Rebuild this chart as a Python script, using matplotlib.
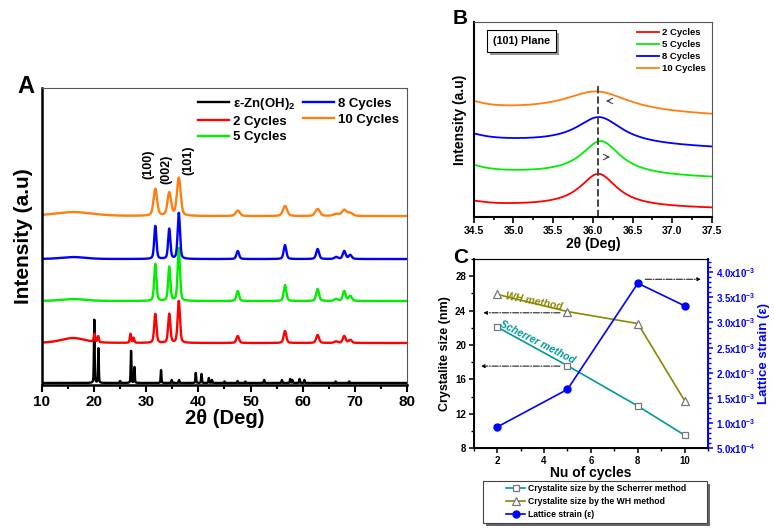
import numpy as np
import matplotlib
matplotlib.use('Agg')
from matplotlib import pyplot as plt
from matplotlib import patheffects
from matplotlib.patches import Rectangle
from matplotlib.ticker import MultipleLocator, FixedLocator

plt.rcParams['font.family'] = ['Liberation Sans', 'DejaVu Sans']
plt.rcParams['font.weight'] = 'bold'
plt.rcParams['mathtext.fontset'] = 'custom'
plt.rcParams['mathtext.rm'] = 'Liberation Sans:bold'
plt.rcParams['mathtext.it'] = 'Liberation Sans:italic:bold'
plt.rcParams['mathtext.bf'] = 'Liberation Sans:bold'

# ---------------- Panel A : XRD patterns (peak lists) -----
# offsets / peak heights are in arbitrary (pixel-like) intensity units
zn_oh_pos = [20.05, 20.85, 25.0, 27.1, 27.75, 32.85, 34.9, 36.3, 39.5, 40.6, 42.0,
             42.6, 45.0, 47.5, 49.0, 52.6, 56.0, 57.6, 58.0, 59.4, 60.3, 66.3, 68.9]
zn_oh_amp = [64, 35, 2, 32, 16, 13, 3, 3, 10, 9, 5, 3, 1.5, 2, 1.5, 3, 3, 4, 3, 4, 3, 1.5, 1.5]

zno_pos = [16.0, 31.75, 34.42, 36.25, 47.55, 56.6, 62.85, 66.4, 67.95, 69.1]
zno_fwhm = [5.5, 0.5, 0.5, 0.52, 0.6, 0.6, 0.65, 0.8, 0.65, 0.7]
amp_2 = [5, 29, 29, 42, 7, 12, 8, 1.5, 7, 3]
amp_5 = [2, 37, 34, 53, 10, 16, 12, 2, 10, 5]
amp_8 = [2, 33, 30, 46, 8, 14, 10, 2, 8, 4]
amp_10 = [4, 27, 23, 38, 5.5, 10, 7, 2, 6, 3]
# residual Zn(OH)2 reflections in the 2-cycle film
extra_2_pos = [20.1, 20.8, 27.0, 27.6]
extra_2_amp = [8, 6, 9, 5]

offsets_a = [2, 42, 84, 126, 169]
labels_a = [r'ε-Zn(OH)$_2$', '2 Cycles', '5 Cycles', '8 Cycles', '10 Cycles']
colors = ['black', '#ff0000', '#00ee00', '#0000ff', '#ff7f0e']
hkl_labels = ['(100)', '(002)', '(101)']
hkl_x = [30.5, 33.8, 38.0]
hkl_y = [221, 216, 225]

# ---------------- Panel B : (101) plane zoom --------------------------------
labels_b = ['2 Cycles', '5 Cycles', '8 Cycles', '10 Cycles']
b_center = [36.07, 36.10, 36.08, 36.05]
b_amp = [33, 34, 27, 21]
b_fwhm = [0.57, 0.6, 0.7, 1.0]
b_shoulder = [4, 7, 6, 7]
b_base_left = [12, 45, 77, 108]
b_base_right = [8.5, 39, 69, 101]

# ---------------- Panel C : crystallite size and strain ----------------------
cycles = [2, 5, 8, 10]
size_scherrer = [22.1, 17.6, 12.9, 9.5]
size_wh = [25.9, 23.9, 22.5, 13.5]
strain = [0.92e-3, 1.67e-3, 3.78e-3, 3.33e-3]


def lorentz(x, pos, amp, fwhm):
    return amp / (1 + (2 * (x - pos) / fwhm) ** 2)


def pvoigt(x, pos, amp, fwhm, eta=0.4):
    g = amp * np.exp(-4 * np.log(2) * ((x - pos) / fwhm) ** 2)
    return eta * lorentz(x, pos, amp, fwhm) + (1 - eta) * g


fig = plt.figure(figsize=(7.74, 5.31), dpi=100)

# ---------------------------- A ---------------------------------------------
ax = fig.add_axes([0.054, 0.275, 0.472, 0.559])
x = np.arange(10, 80.001, 0.02)

black = np.full_like(x, offsets_a[0])
for p, a in zip(zn_oh_pos, zn_oh_amp):
    black += pvoigt(x, p, a, 0.16)

curves = [black]
for k, amps in enumerate([amp_2, amp_5, amp_8, amp_10]):
    y = np.full_like(x, offsets_a[k + 1], dtype=float)
    for p, a, w in zip(zno_pos, amps, zno_fwhm):
        y += pvoigt(x, p, a, w * (1.6 if k == 3 else 1.0))
    if k == 0:
        for p, a in zip(extra_2_pos, extra_2_amp):
            y += pvoigt(x, p, a, 0.3)
    curves.append(y)

for y, c, lab in zip(curves, colors, labels_a):
    ax.plot(x, y, color=c, lw=1.7, label=lab)

ax.set_xlim(10, 80)
ax.set_ylim(0, 297)
ax.set_yticks([])
ax.xaxis.set_major_locator(MultipleLocator(10))
ax.xaxis.set_minor_locator(MultipleLocator(5))
ax.tick_params(axis='x', which='major', labelsize=11, length=5, width=1.5, pad=2)
ax.tick_params(axis='x', which='minor', length=3, width=1.5)
ax.spines['left'].set_linewidth(1.8)
ax.spines['bottom'].set_linewidth(1.8)
for s in ['top', 'right']:
    ax.spines[s].set_color('#555555')
ax.set_xlabel('2θ (Deg)', fontsize=14.5, fontweight='bold', labelpad=0)
ax.set_ylabel('Intensity (a.u)', fontsize=15, fontweight='bold', labelpad=6)
ax.legend(ncol=2, loc='upper right', frameon=False, handlelength=2.4,
          handletextpad=0.3, columnspacing=0.5, labelspacing=0.25,
          borderaxespad=0.2, prop={'weight': 'bold', 'size': 9.5})
for lab, xp, yp in zip(hkl_labels, hkl_x, hkl_y):
    ax.text(xp, yp, lab, rotation=90, ha='center', va='center', fontsize=9,
            fontweight='bold')
fig.text(0.022, 0.838, 'A', fontsize=17, fontweight='bold', va='center')

# ---------------------------- B ---------------------------------------------
axb = fig.add_axes([0.612, 0.591, 0.308, 0.368])
xb = np.linspace(34.5, 37.5, 400)
for k in range(4):
    base = b_base_left[k] + (b_base_right[k] - b_base_left[k]) * (xb - 34.5) / 3.0
    yb = base + lorentz(xb, 34.42, b_shoulder[k], 0.45) \
        + lorentz(xb, b_center[k], b_amp[k], b_fwhm[k])
    axb.plot(xb, yb, color=colors[k + 1], lw=1.3, label=labels_b[k])
axb.vlines(36.07, 0, 133, colors='#444444', linestyles='--', lw=1.4)
axb.annotate('', xy=(36.13, 116), xytext=(36.25, 116),
             arrowprops=dict(arrowstyle='->', color='#333333', lw=0.7))
axb.annotate('', xy=(36.25, 60), xytext=(36.13, 60),
             arrowprops=dict(arrowstyle='->', color='#333333', lw=0.7))
axb.set_xlim(34.5, 37.5)
axb.set_ylim(0, 195)
axb.set_yticks([])
axb.xaxis.set_major_locator(MultipleLocator(0.5))
axb.xaxis.set_minor_locator(MultipleLocator(0.25))
axb.tick_params(axis='x', which='major', labelsize=7.5, length=4, width=1.2, pad=2)
axb.tick_params(axis='x', which='minor', length=2.5, width=1.2)
axb.spines['left'].set_linewidth(1.5)
axb.spines['bottom'].set_linewidth(1.5)
for s in ['top', 'right']:
    axb.spines[s].set_color('#555555')
axb.set_xlabel('2θ (Deg)', fontsize=10, fontweight='bold', labelpad=1)
axb.set_ylabel('Intensity (a.u)', fontsize=10, fontweight='bold', labelpad=5)
axb.legend(loc='upper right', frameon=False, handlelength=2.3, handletextpad=0.3,
           labelspacing=0.3, borderaxespad=0.3, prop={'weight': 'bold', 'size': 6.8})
plane = axb.text(0.20, 0.90, '(101) Plane', transform=axb.transAxes, ha='center',
                 va='center', fontsize=7.8, fontweight='bold',
                 bbox=dict(boxstyle='square,pad=0.55', fc='white', ec='black', lw=0.8))
plane.get_bbox_patch().set_path_effects(
    [patheffects.withSimplePatchShadow(offset=(2, -2), shadow_rgbFace='#999999', alpha=1)])
fig.text(0.585, 0.965, 'B', fontsize=15, fontweight='bold', va='center')

# ---------------------------- C ---------------------------------------------
axc = fig.add_axes([0.612, 0.156, 0.303, 0.356])
axs = axc.twinx()
axc.plot(cycles, size_scherrer, color='#009999', lw=1.2, marker='s', ms=5,
         mfc='white', mec='#777777', mew=0.9, label='Crystalite size by the Scherrer method')
axc.plot(cycles, size_wh, color='#888800', lw=1.2, marker='^', ms=6,
         mfc='white', mec='#777777', mew=0.9, label='Crystalite size by the WH method')
axs.plot(cycles, strain, color='#0000ff', lw=1.2, marker='o', ms=5,
         label='Lattice strain (ε)')
axc.set_xlim(1, 11)
axc.set_ylim(8, 30)
axs.set_ylim(5e-4, 4.26e-3)
axc.xaxis.set_major_locator(MultipleLocator(2))
axc.xaxis.set_minor_locator(MultipleLocator(1))
axc.yaxis.set_major_locator(MultipleLocator(4))
axc.yaxis.set_minor_locator(MultipleLocator(2))
strain_ticks = [5e-4, 1e-3, 1.5e-3, 2e-3, 2.5e-3, 3e-3, 3.5e-3, 4e-3]
strain_ticklabels = ['5.0x10$^{-4}$', '1.0x10$^{-3}$', '1.5x10$^{-3}$', '2.0x10$^{-3}$',
                     '2.5x10$^{-3}$', '3.0x10$^{-3}$', '3.5x10$^{-3}$', '4.0x10$^{-3}$']
axs.yaxis.set_major_locator(FixedLocator(strain_ticks))
axs.set_yticklabels(strain_ticklabels)
axs.yaxis.set_minor_locator(MultipleLocator(1e-4))
axc.tick_params(which='major', labelsize=7, length=3.5, width=1.1, pad=2)
axc.tick_params(which='minor', length=2, width=1.0)
axs.tick_params(which='major', labelsize=7, length=3.5, width=1.1, pad=2,
                colors='#0000ff')
axs.tick_params(which='minor', length=2, width=1.0, colors='#0000ff')
axs.spines['right'].set_color('#0000ff')
axs.spines['right'].set_linewidth(1.4)
axc.spines['left'].set_linewidth(1.4)
axc.spines['bottom'].set_linewidth(1.4)
axc.set_xlabel('Nu of cycles', fontsize=10, fontweight='bold', labelpad=0)
axc.set_ylabel('Crystalite size (nm)', fontsize=9, fontweight='bold', labelpad=3)
axs.set_ylabel('Lattice strain (ε)', fontsize=9.5, fontweight='bold', color='#0000ff',
               labelpad=2)

arrow_kw = dict(arrowstyle='-|>', color='black', lw=0.7, ls='-.', mutation_scale=5)
axc.annotate('', xy=(1.3, 23.75), xytext=(4.8, 23.75), arrowprops=arrow_kw)
axc.annotate('', xy=(1.2, 17.55), xytext=(4.8, 17.55), arrowprops=arrow_kw)
axs.annotate('', xy=(10.8, 3.86e-3), xytext=(8.2, 3.86e-3), arrowprops=arrow_kw)
axc.text(3.55, 25.1, 'WH method', color='#888800', fontsize=7.5, fontweight='bold',
         style='italic', rotation=-11, ha='center', va='center')
axc.text(3.7, 20.3, 'Scherrer method', color='#009999', fontsize=7.5,
         fontweight='bold', style='italic', rotation=-27, ha='center', va='center')

# legend box below panel C (drawn as a frame with a shadow)
fig.patches.append(Rectangle((0.628, 0.009), 0.289, 0.08, transform=fig.transFigure,
                             fc='#666666', ec='none', zorder=1))
fig.patches.append(Rectangle((0.624, 0.015), 0.289, 0.08, transform=fig.transFigure,
                             fc='white', ec='#444444', lw=0.8, zorder=2))
h1, l1 = axc.get_legend_handles_labels()
h2, l2 = axs.get_legend_handles_labels()
fig.legend(h1 + h2, l1 + l2, loc='center', bbox_to_anchor=(0.77, 0.055),
           frameon=False, handlelength=2.2, handletextpad=0.3, labelspacing=0.45,
           borderpad=0.2, prop={'weight': 'bold', 'size': 6.2})
fig.text(0.585, 0.515, 'C', fontsize=15, fontweight='bold', va='center')

fig.savefig('out.png', dpi=100)
